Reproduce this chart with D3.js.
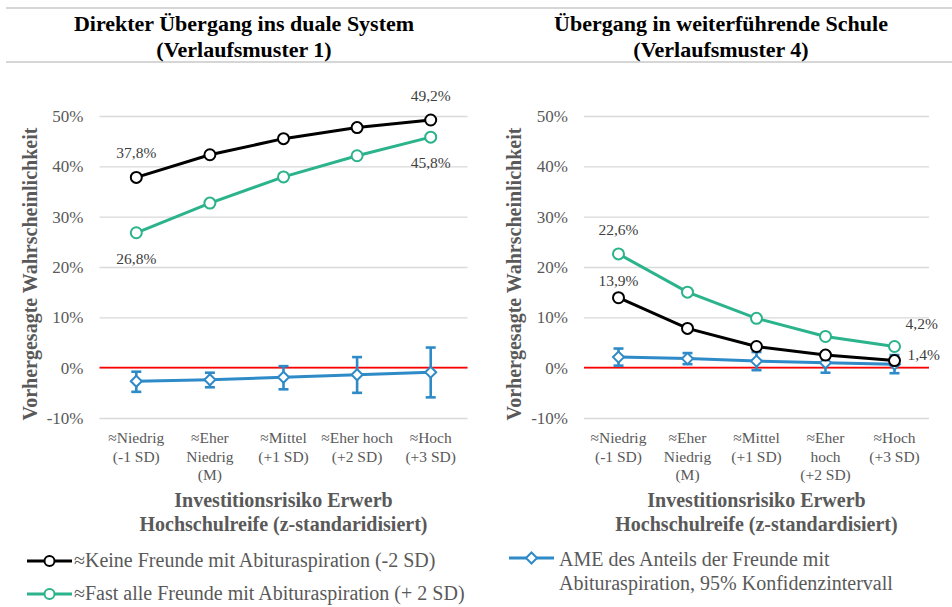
<!DOCTYPE html>
<html>
<head>
<meta charset="utf-8">
<script src="https://cdn.jsdelivr.net/npm/d3@7"></script>
<style>
  body { margin: 0; background: #fff; }
  svg text { font-family: "Liberation Serif", "Times New Roman", Times, "DejaVu Serif", serif !important; }
</style>
</head>
<body>
<div id="chart"></div>
<script>
// categories (x axis), one array of lines per tick
var categoriesLeft = [["≈Niedrig", "(-1 SD)"], ["≈Eher", "Niedrig", "(M)"], ["≈Mittel", "(+1 SD)"], ["≈Eher hoch", "(+2 SD)"], ["≈Hoch", "(+3 SD)"]];
var categoriesRight = [["≈Niedrig", "(-1 SD)"], ["≈Eher", "Niedrig", "(M)"], ["≈Mittel", "(+1 SD)"], ["≈Eher", "hoch", "(+2 SD)"], ["≈Hoch", "(+3 SD)"]];
var yTicks = [-10, 0, 10, 20, 30, 40, 50];

// Verlaufsmuster 1 (percent)
var keineLeft = [37.8, 42.3, 45.5, 47.7, 49.2];
var fastLeft = [26.8, 32.7, 37.9, 42.1, 45.8];
var ameLeft = [-2.7, -2.4, -1.9, -1.4, -0.9];
var ameLeftLo = [-4.8, -3.9, -4.3, -5.0, -5.9];
var ameLeftHi = [-0.8, -1.0, 0.3, 2.1, 4.0];

// Verlaufsmuster 4 (percent)
var keineRight = [13.9, 7.8, 4.2, 2.5, 1.4];
var fastRight = [22.6, 15.0, 9.8, 6.2, 4.2];
var ameRight = [2.1, 1.8, 1.3, 1.0, 0.7];
var ameRightLo = [0.4, 0.7, -0.5, -1.0, -1.1];
var ameRightHi = [3.8, 2.9, 3.1, 3.0, 2.5];

var legendNames = ["≈Keine Freunde mit Abituraspiration (-2 SD)", "≈Fast alle Freunde mit Abituraspiration (+ 2 SD)", "AME des Anteils der Freunde mit", "Abituraspiration, 95% Konfidenzintervall"];

var colBlack = "#000000", colGreen = "#2bb38b", colBlue = "#2e8bc8";
var serif = "'Liberation Serif', 'Times New Roman', Times, 'DejaVu Serif', serif";

// german number format
var de = d3.formatLocale({decimal: ",", thousands: ".", grouping: [3], currency: ["", " €"], minus: "-"});
var fmtTick = function(d) { return de.format("d")(d) + "%"; };
var fmtLabel = function(d) { return de.format(".1f")(d) + "%"; };

var svg = d3.select("#chart")
  .append("svg")
    .attr("width", 952)
    .attr("height", 607)
    .attr("font-family", serif);

// table borders
[8, 62].forEach(function(yy) {
  svg.append("line")
    .attr("x1", 6).attr("x2", 952)
    .attr("y1", yy).attr("y2", yy)
    .attr("stroke", "#c8c8c8")
    .attr("stroke-width", 1.5);
});

var panels = [
  {
    left: 99.5, right: 467.5, titleX: 244, yTitleX: 37,
    title: ["Direkter Übergang ins duale System", "(Verlaufsmuster 1)"],
    xTitle: ["Investitionsrisiko Erwerb", "Hochschulreife (z-standaridisiert)"],
    cats: categoriesLeft,
    keine: keineLeft, fast: fastLeft, ame: ameLeft, lo: ameLeftLo, hi: ameLeftHi,
    labels: [
      {s: "keine", i: 0, dx: 0, dy: -19, anchor: "middle"},
      {s: "keine", i: 4, dx: 0, dy: -19, anchor: "middle"},
      {s: "fast", i: 0, dx: 0, dy: 31, anchor: "middle"},
      {s: "fast", i: 4, dx: 0, dy: 31, anchor: "middle"}
    ]
  },
  {
    left: 584, right: 929, titleX: 721, yTitleX: 521,
    title: ["Übergang in weiterführende Schule", "(Verlaufsmuster 4)"],
    xTitle: ["Investitionsrisiko Erwerb", "Hochschulreife (z-standardisiert)"],
    cats: categoriesRight,
    keine: keineRight, fast: fastRight, ame: ameRight, lo: ameRightLo, hi: ameRightHi,
    labels: [
      {s: "fast", i: 0, dx: 0, dy: -19, anchor: "middle"},
      {s: "keine", i: 0, dx: 0, dy: -12, anchor: "middle"},
      {s: "fast", i: 4, dx: 11, dy: -18, anchor: "start"},
      {s: "keine", i: 4, dx: 13, dy: -1, anchor: "start"}
    ]
  }
];

var y = d3.scaleLinear()
  .domain([-10, 50])
  .range([418, 116]);

panels.forEach(function(p) {
  var x = d3.scaleBand()
    .domain(d3.range(p.cats.length))
    .range([p.left, p.right]);
  var cx = function(d, i) { return x(i) + x.bandwidth() / 2; };

  // title
  svg.append("text")
    .attr("x", p.titleX)
    .attr("text-anchor", "middle")
    .attr("font-size", 22)
    .attr("font-weight", "bold")
    .attr("fill", "#000")
    .selectAll("tspan")
    .data(p.title)
    .enter().append("tspan")
      .attr("x", p.titleX)
      .attr("y", function(d, i) { return 31 + i * 26; })
      .text(function(d) { return d; });

  // Y axis + gridlines
  var yAxis = svg.append("g")
    .attr("transform", "translate(" + p.left + ",0)")
    .call(d3.axisLeft(y).tickValues(yTicks).tickSize(-(p.right - p.left)).tickPadding(16).tickFormat(fmtTick));
  yAxis.attr("font-family", serif);
  yAxis.select(".domain").remove();
  yAxis.selectAll("line").attr("stroke", "#d9d9d9").attr("stroke-width", 1.3);
  yAxis.selectAll("text")
    .attr("font-size", 17)
    .attr("fill", "#595959");

  // zero line
  svg.append("line")
    .attr("x1", p.left).attr("x2", p.right)
    .attr("y1", y(0)).attr("y2", y(0))
    .attr("stroke", "#ff0000")
    .attr("stroke-width", 1.6);

  // Y title
  svg.append("text")
    .attr("transform", "translate(" + p.yTitleX + "," + 274 + ") rotate(-90)")
    .attr("text-anchor", "middle")
    .attr("font-size", 20)
    .attr("font-weight", "bold")
    .attr("fill", "#595959")
    .text("Vorhergesagte Wahrscheinlichkeit");

  // category labels
  svg.selectAll(null)
    .data(p.cats)
    .enter().append("text")
      .attr("text-anchor", "middle")
      .attr("font-size", 15.5)
      .attr("fill", "#595959")
      .each(function(lines, i) {
        d3.select(this).selectAll("tspan")
          .data(lines)
          .enter().append("tspan")
            .attr("x", x(i) + x.bandwidth() / 2)
            .attr("y", function(d, j) { return 443 + j * 18.5; })
            .text(function(d) { return d; });
      });

  // X title
  svg.append("text")
    .attr("text-anchor", "middle")
    .attr("font-size", 20)
    .attr("font-weight", "bold")
    .attr("fill", "#595959")
    .selectAll("tspan")
    .data(p.xTitle)
    .enter().append("tspan")
      .attr("x", (p.left + p.right) / 2)
      .attr("y", function(d, i) { return 507 + i * 23.5; })
      .text(function(d) { return d; });

  var line = d3.line()
    .x(cx)
    .y(function(d) { return y(d); });

  // AME with confidence interval
  svg.append("path")
    .datum(p.ame)
    .attr("fill", "none")
    .attr("stroke", colBlue)
    .attr("stroke-width", 3)
    .attr("d", line);

  var eb = svg.append("g")
    .attr("stroke", colBlue)
    .attr("stroke-width", 2.6);
  p.ame.forEach(function(v, i) {
    var xx = cx(v, i);
    eb.append("line").attr("x1", xx).attr("x2", xx).attr("y1", y(p.lo[i])).attr("y2", y(p.hi[i]));
    eb.append("line").attr("x1", xx - 5).attr("x2", xx + 5).attr("y1", y(p.lo[i])).attr("y2", y(p.lo[i]));
    eb.append("line").attr("x1", xx - 5).attr("x2", xx + 5).attr("y1", y(p.hi[i])).attr("y2", y(p.hi[i]));
  });

  svg.selectAll(null)
    .data(p.ame)
    .enter().append("path")
      .attr("transform", function(d, i) { return "translate(" + cx(d, i) + "," + y(d) + ")"; })
      .attr("d", "M0,-5.5L5.5,0L0,5.5L-5.5,0Z")
      .attr("fill", "#fff")
      .attr("stroke", colBlue)
      .attr("stroke-width", 2);

  // two predicted lines
  [[p.keine, colBlack], [p.fast, colGreen]].forEach(function(s) {
    svg.append("path")
      .datum(s[0])
      .attr("fill", "none")
      .attr("stroke", s[1])
      .attr("stroke-width", 3)
      .attr("d", line);
    svg.selectAll(null)
      .data(s[0])
      .enter().append("circle")
        .attr("cx", cx)
        .attr("cy", function(d) { return y(d); })
        .attr("r", 5.5)
        .attr("fill", "#fff")
        .attr("stroke", s[1])
        .attr("stroke-width", 2);
  });

  // data labels
  svg.selectAll(null)
    .data(p.labels)
    .enter().append("text")
      .attr("x", function(d) { return cx(null, d.i) + d.dx; })
      .attr("y", function(d) { return y(p[d.s][d.i]) + d.dy; })
      .attr("text-anchor", function(d) { return d.anchor; })
      .attr("font-size", 15.5)
      .attr("fill", "#404040")
      .text(function(d) { return fmtLabel(p[d.s][d.i]); });
});

// legend
function legendSymbol(x0, yy, color, shape) {
  svg.append("line")
    .attr("x1", x0).attr("x2", x0 + 45)
    .attr("y1", yy).attr("y2", yy)
    .attr("stroke", color)
    .attr("stroke-width", 3);
  if (shape === "circle") {
    svg.append("circle")
      .attr("cx", x0 + 22.5).attr("cy", yy).attr("r", 5)
      .attr("fill", "#fff").attr("stroke", color).attr("stroke-width", 2);
  } else {
    svg.append("path")
      .attr("transform", "translate(" + (x0 + 22.5) + "," + yy + ")")
      .attr("d", "M0,-5.5L5.5,0L0,5.5L-5.5,0Z")
      .attr("fill", "#fff").attr("stroke", color).attr("stroke-width", 2);
  }
}
function legendText(x0, yy, str) {
  svg.append("text")
    .attr("x", x0).attr("y", yy)
    .attr("font-size", 20)
    .attr("fill", "#595959")
    .text(str);
}

legendSymbol(27, 561, colBlack, "circle");
legendText(74, 567, legendNames[0]);
legendSymbol(27, 594, colGreen, "circle");
legendText(74, 600, legendNames[1]);
legendSymbol(509, 558, colBlue, "diamond");
legendText(559, 566, legendNames[2]);
legendText(559, 590, legendNames[3]);
</script>
</body>
</html>
